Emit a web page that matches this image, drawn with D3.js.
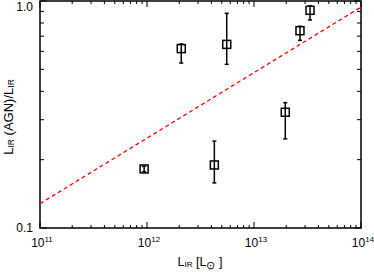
<!DOCTYPE html>
<html><head><meta charset="utf-8">
<script src="https://cdn.jsdelivr.net/npm/d3@7"></script>
<style>body{margin:0;background:#fff}svg{display:block;font-family:"Liberation Sans",Arial,sans-serif}</style>
</head><body><div id="chart"></div>
<script>
const xValues = [9.4e11, 4.26e12, 1.96e13, 2.09e12, 5.56e12, 2.69e13, 3.34e13];
const yValues = [0.182, 0.1895, 0.3236, 0.617, 0.644, 0.740, 0.910];
const yLow    = [0.177, 0.158, 0.247, 0.533, 0.526, 0.671, 0.825];
const yHigh   = [0.187, 0.2415, 0.3565, 0.647, 0.883, 0.774, 0.953];
const lineX = [1e11, 1e14];
const lineY = [0.128, 0.94];
const xTickExps = [11, 12, 13, 14];
const yTickLabels = ["0.1", "1.0"];
const yTickVals = [0.1, 1.0];

const W = 374, H = 272;
const m = {l: 40, r: 13, t: 1, b: 44};
const svg = d3.select("#chart").append("svg").attr("width", W).attr("height", H);
const x = d3.scaleLog().domain([1e11, 1e14]).range([m.l, W - m.r]);
const y = d3.scaleLog().domain([0.1, 1.0]).range([H - m.b, m.t]);
const x0 = m.l, x1 = W - m.r, y0 = H - m.b, y1 = m.t;

const xMinor = [];
for (let e = 11; e < 14; e++) for (let k = 2; k <= 9; k++) xMinor.push(k * Math.pow(10, e));
const yMinor = [];
for (let k = 2; k <= 9; k++) yMinor.push(k / 10);

const g = svg.append("g").attr("stroke", "#000").attr("stroke-width", 1);
xMinor.forEach(v => {
  g.append("line").attr("x1", x(v)).attr("x2", x(v)).attr("y1", y0).attr("y2", y0 - 3);
  g.append("line").attr("x1", x(v)).attr("x2", x(v)).attr("y1", y1).attr("y2", y1 + 3);
});
xTickExps.forEach(e => {
  const v = Math.pow(10, e);
  g.append("line").attr("x1", x(v)).attr("x2", x(v)).attr("y1", y0).attr("y2", y0 - 6);
  g.append("line").attr("x1", x(v)).attr("x2", x(v)).attr("y1", y1).attr("y2", y1 + 6);
});
yMinor.forEach(v => {
  g.append("line").attr("x1", x0).attr("x2", x0 + 4).attr("y1", y(v)).attr("y2", y(v));
  g.append("line").attr("x1", x1).attr("x2", x1 - 4).attr("y1", y(v)).attr("y2", y(v));
});
yTickVals.forEach(v => {
  g.append("line").attr("x1", x0).attr("x2", x0 + 7).attr("y1", y(v)).attr("y2", y(v));
  g.append("line").attr("x1", x1).attr("x2", x1 - 7).attr("y1", y(v)).attr("y2", y(v));
});
svg.append("rect").attr("x", x0).attr("y", y1).attr("width", x1 - x0).attr("height", y0 - y1)
  .attr("fill", "none").attr("stroke", "#000").attr("stroke-width", 1.5);

svg.append("line").attr("x1", x(lineX[0])).attr("y1", y(lineY[0])).attr("x2", x(lineX[1])).attr("y2", y(lineY[1]))
  .attr("stroke", "#ff0000").attr("stroke-width", 1.3).attr("stroke-dasharray", "4,3");

const eb = svg.append("g").attr("stroke", "#000").attr("stroke-width", 1.5);
xValues.forEach((xv, i) => {
  const cx = x(xv);
  eb.append("line").attr("x1", cx).attr("x2", cx).attr("y1", y(yLow[i])).attr("y2", y(yHigh[i]));
  eb.append("line").attr("x1", cx - 2).attr("x2", cx + 2).attr("y1", y(yLow[i])).attr("y2", y(yLow[i]));
  eb.append("line").attr("x1", cx - 2).attr("x2", cx + 2).attr("y1", y(yHigh[i])).attr("y2", y(yHigh[i]));
});
svg.append("g").selectAll("rect").data(xValues).join("rect")
  .attr("x", (d) => x(d) - 4).attr("y", (d, i) => y(yValues[i]) - 4)
  .attr("width", 8).attr("height", 8).attr("fill", "none").attr("stroke", "#000").attr("stroke-width", 1.5);

xTickExps.forEach(e => {
  const t = svg.append("text").attr("x", x(Math.pow(10, e)) + 2).attr("y", 247)
    .attr("text-anchor", "middle").attr("font-size", 12).attr("fill", "#000");
  t.append("tspan").text("10");
  t.append("tspan").attr("dy", -5).attr("font-size", 8).text(String(e));
});
yTickVals.forEach((v, i) => {
  svg.append("text").attr("x", 33).attr("y", i === 0 ? y(v) + 4 : 11)
    .attr("text-anchor", "end").attr("font-size", 12).attr("fill", "#000").text(yTickLabels[i]);
});
const xt = svg.append("text").attr("x", 200).attr("y", 266).attr("text-anchor", "middle").attr("font-size", 12.5);
xt.append("tspan").text("L");
xt.append("tspan").attr("font-size", 8).attr("dy", 1).text("IR");
xt.append("tspan").attr("dy", -1).text(" [L");
xt.append("tspan").attr("font-size", 11).attr("dy", 3).text("\u2299");
xt.append("tspan").attr("dy", -3).text(" ]");
const yt = svg.append("text").attr("transform", "translate(13,117) rotate(-90)").attr("text-anchor", "middle").attr("font-size", 13);
yt.append("tspan").text("L");
yt.append("tspan").attr("font-size", 8.5).attr("dy", 1).text("IR");
yt.append("tspan").attr("dy", -1).text(" (AGN)/L");
yt.append("tspan").attr("font-size", 8.5).attr("dy", 1).text("IR");
</script></body></html>
